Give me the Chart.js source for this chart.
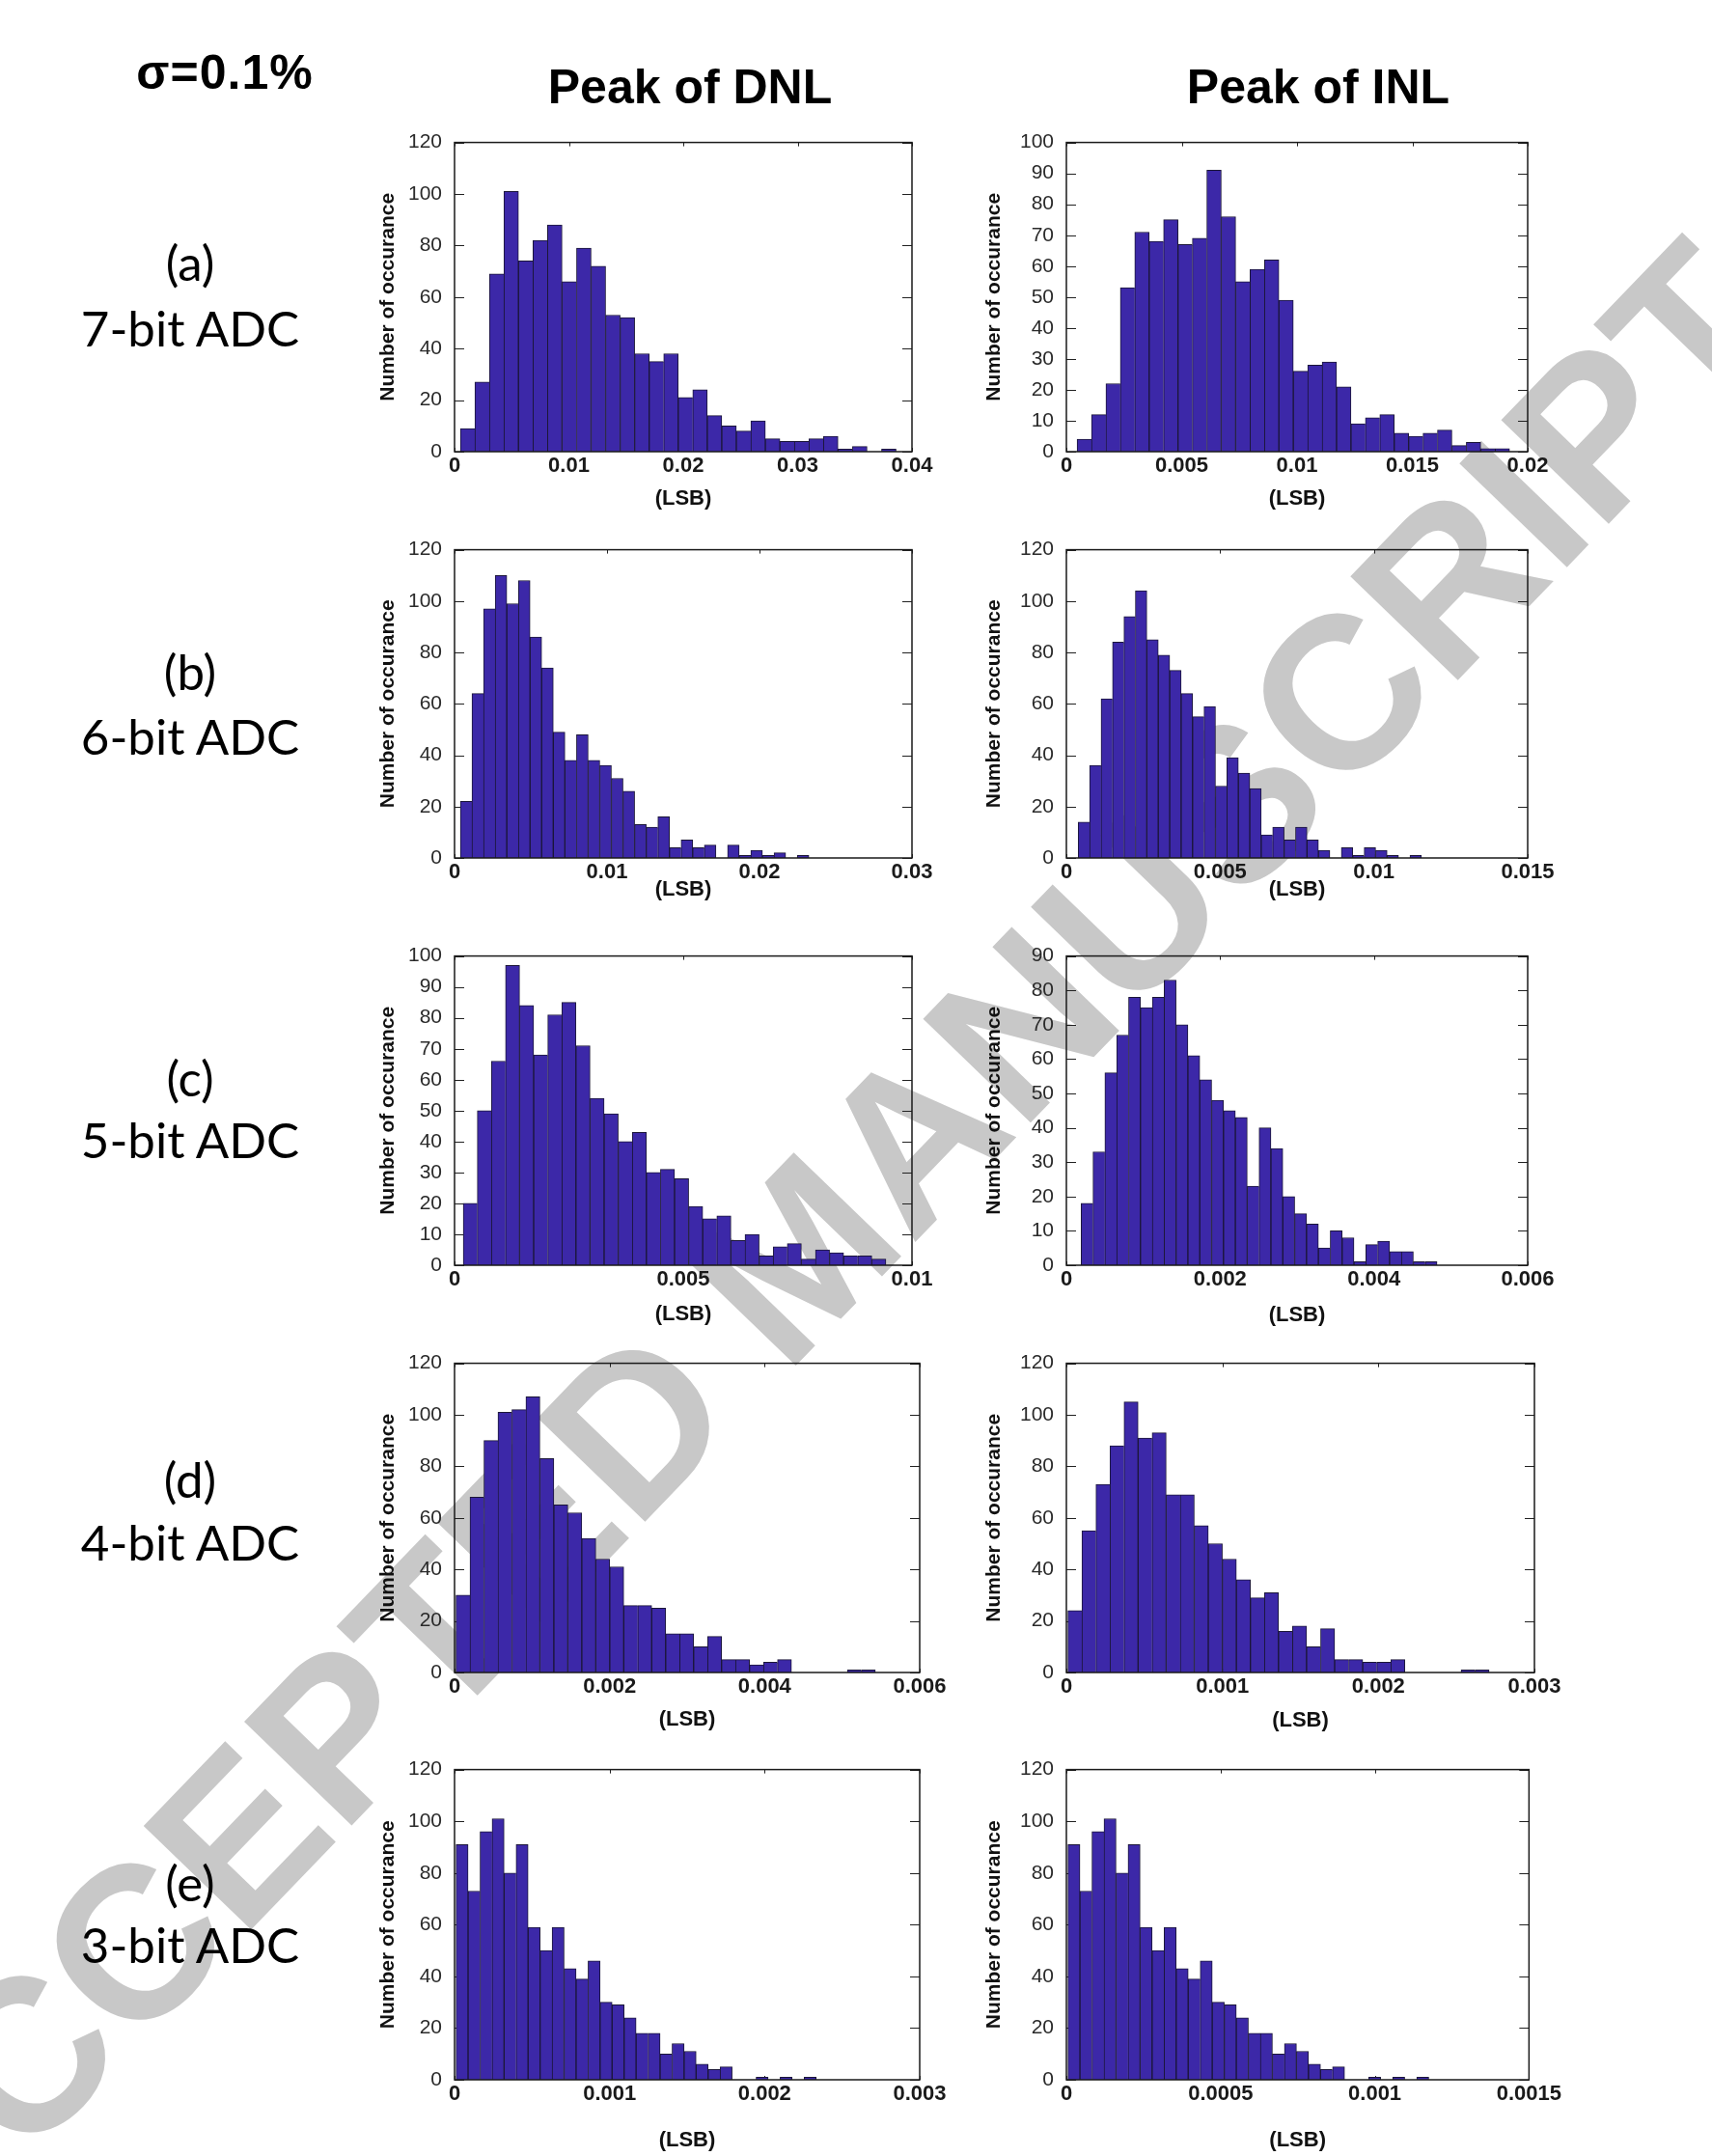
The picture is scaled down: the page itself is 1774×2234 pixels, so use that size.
<!DOCTYPE html>
<html>
<head>
<meta charset="utf-8">
<script src="https://cdn.jsdelivr.net/npm/chart.js@4.4.1/dist/chart.umd.min.js"></script>
<style>
  body { margin: 0; background: #fff; }
  #page { position: relative; width: 1774px; height: 2234px; overflow: hidden; background: #fff; }
  .txt { position: absolute; transform: translate(-50%, -50%); white-space: nowrap; color: #000; }
  .head { font-family: "Liberation Sans", Arial, sans-serif; font-weight: bold; }
  .row { font-family: Lato, "Open Sans", sans-serif; font-size: 51px; }
  #stamp { position: absolute; left: 828px; top: 1300px; transform: translate(-50%, -50%) rotate(-46deg);
           font-family: "Liberation Sans", Arial, sans-serif; font-weight: bold; font-size: 225px;
           line-height: 1; color: #c8c8c8; white-space: nowrap; }
  canvas { position: absolute; }
</style>
</head>
<body>
<div id="page">
  <div id="stamp">ACCEPTED MANUSCRIPT</div>

  <div class="txt head" style="left:233px; top:75px; font-size:50px; letter-spacing:1px;">σ=0.1%</div>
  <div class="txt head" style="left:715px; top:90px; font-size:50px;">Peak of DNL</div>
  <div class="txt head" style="left:1366px; top:90px; font-size:50px;">Peak of INL</div>

  <div class="txt row" style="left:197px; top:271px;">(a)</div>
  <div class="txt row" style="left:197px; top:339px;">7-bit ADC</div>
  <div class="txt row" style="left:197px; top:695px;">(b)</div>
  <div class="txt row" style="left:197px; top:762px;">6-bit ADC</div>
  <div class="txt row" style="left:197px; top:1116px;">(c)</div>
  <div class="txt row" style="left:197px; top:1180px;">5-bit ADC</div>
  <div class="txt row" style="left:197px; top:1532px;">(d)</div>
  <div class="txt row" style="left:197px; top:1597px;">4-bit ADC</div>
  <div class="txt row" style="left:197px; top:1950px;">(e)</div>
  <div class="txt row" style="left:197px; top:2014px;">3-bit ADC</div>
</div>

<script>
// Histogram counts, 30 bins each
const aDnlCounts = [9, 27, 69, 101, 74, 82, 88, 66, 79, 72, 53, 52, 38, 35, 38, 21, 24, 14, 10, 8, 12, 5, 4, 4, 5, 6, 1, 2, 0, 1];
const aInlCounts = [4, 12, 22, 53, 71, 68, 75, 67, 69, 91, 76, 55, 59, 62, 49, 26, 28, 29, 21, 9, 11, 12, 6, 5, 6, 7, 2, 3, 1, 1];
const bDnlCounts = [22, 64, 97, 110, 99, 108, 86, 74, 49, 38, 48, 38, 36, 31, 26, 13, 12, 16, 4, 7, 4, 5, 0, 5, 1, 3, 1, 2, 0, 1];
const bInlCounts = [14, 36, 62, 84, 94, 104, 85, 79, 73, 64, 55, 59, 28, 39, 33, 27, 9, 12, 7, 12, 7, 3, 0, 4, 1, 4, 3, 1, 0, 1];
const cDnlCounts = [20, 50, 66, 97, 84, 68, 81, 85, 71, 54, 49, 40, 43, 30, 31, 28, 19, 15, 16, 8, 10, 3, 6, 7, 2, 5, 4, 3, 3, 2];
const cInlCounts = [18, 33, 56, 67, 78, 75, 78, 83, 70, 61, 54, 48, 45, 43, 23, 40, 34, 20, 15, 12, 5, 10, 8, 1, 6, 7, 4, 4, 1, 1];
const dDnlCounts = [30, 68, 90, 101, 102, 107, 83, 65, 62, 52, 44, 41, 26, 26, 25, 15, 15, 10, 14, 5, 5, 3, 4, 5, 0, 0, 0, 0, 1, 1];
const dInlCounts = [24, 55, 73, 88, 105, 91, 93, 69, 69, 57, 50, 44, 36, 29, 31, 16, 18, 10, 17, 5, 5, 4, 4, 5, 0, 0, 0, 0, 1, 1];
const eDnlCounts = [91, 73, 96, 101, 80, 91, 59, 50, 59, 43, 39, 46, 30, 29, 24, 18, 18, 10, 14, 11, 6, 4, 5, 0, 0, 1, 0, 1, 0, 1];
const eInlCounts = [91, 73, 96, 101, 80, 91, 59, 50, 59, 43, 39, 46, 30, 29, 24, 18, 18, 10, 14, 11, 6, 4, 5, 0, 0, 1, 0, 1, 0, 1];

// Bin start and bin width (LSB)
const aDnlBins = [0.00051, 0.00127];
const aInlBins = [0.000464, 0.000625];
const bDnlBins = [0.00038, 0.000762];
const bInlBins = [0.000384, 0.000372];
const cDnlBins = [0.00019, 0.000308];
const cInlBins = [0.000192, 0.0001543];
const dDnlBins = [0.000019, 0.0001803];
const dInlBins = [0.0000096, 0.00009];
const eDnlBins = [0.00001, 0.0000774];
const eInlBins = [0.000005, 0.000039];

// Tick labels
const aDnlXTicks = [0, 0.01, 0.02, 0.03, 0.04];
const aInlXTicks = [0, 0.005, 0.01, 0.015, 0.02];
const bDnlXTicks = [0, 0.01, 0.02, 0.03];
const bInlXTicks = [0, 0.005, 0.01, 0.015];
const cDnlXTicks = [0, 0.005, 0.01];
const cInlXTicks = [0, 0.002, 0.004, 0.006];
const dDnlXTicks = [0, 0.002, 0.004, 0.006];
const dInlXTicks = [0, 0.001, 0.002, 0.003];
const eDnlXTicks = [0, 0.001, 0.002, 0.003];
const eInlXTicks = [0, 0.0005, 0.001, 0.0015];

const yTicks120 = [0, 20, 40, 60, 80, 100, 120];
const yTicks100 = [0, 10, 20, 30, 40, 50, 60, 70, 80, 90, 100];
const yTicks90 = [0, 10, 20, 30, 40, 50, 60, 70, 80, 90];

// Where each plot box sits on the page: y-title x, plot left/right/top/bottom, x-title y
const layoutBoxes = {
    aDnl: { titleX: 403, left: 471, right: 945, top: 148, bottom: 468, titleY: 517 },
    aInl: { titleX: 1031, left: 1105, right: 1583, top: 148, bottom: 468, titleY: 517 },
    bDnl: { titleX: 403, left: 471, right: 945, top: 570, bottom: 889, titleY: 922 },
    bInl: { titleX: 1031, left: 1105, right: 1583, top: 570, bottom: 889, titleY: 922 },
    cDnl: { titleX: 403, left: 471, right: 945, top: 991, bottom: 1311, titleY: 1362 },
    cInl: { titleX: 1031, left: 1105, right: 1583, top: 991, bottom: 1311, titleY: 1363 },
    dDnl: { titleX: 403, left: 471, right: 953, top: 1413, bottom: 1733, titleY: 1782 },
    dInl: { titleX: 1031, left: 1105, right: 1590, top: 1413, bottom: 1733, titleY: 1783 },
    eDnl: { titleX: 403, left: 471, right: 953, top: 1834, bottom: 2155, titleY: 2218 },
    eInl: { titleX: 1031, left: 1105, right: 1590, top: 1834, bottom: 2155, titleY: 2218 }
};

const panels = [
    { id: 'aDnl', counts: aDnlCounts, bins: aDnlBins, xTicks: aDnlXTicks, yTicks: yTicks120 },
    { id: 'aInl', counts: aInlCounts, bins: aInlBins, xTicks: aInlXTicks, yTicks: yTicks100 },
    { id: 'bDnl', counts: bDnlCounts, bins: bDnlBins, xTicks: bDnlXTicks, yTicks: yTicks120 },
    { id: 'bInl', counts: bInlCounts, bins: bInlBins, xTicks: bInlXTicks, yTicks: yTicks120 },
    { id: 'cDnl', counts: cDnlCounts, bins: cDnlBins, xTicks: cDnlXTicks, yTicks: yTicks100 },
    { id: 'cInl', counts: cInlCounts, bins: cInlBins, xTicks: cInlXTicks, yTicks: yTicks90 },
    { id: 'dDnl', counts: dDnlCounts, bins: dDnlBins, xTicks: dDnlXTicks, yTicks: yTicks120 },
    { id: 'dInl', counts: dInlCounts, bins: dInlBins, xTicks: dInlXTicks, yTicks: yTicks120 },
    { id: 'eDnl', counts: eDnlCounts, bins: eDnlBins, xTicks: eDnlXTicks, yTicks: yTicks120 },
    { id: 'eInl', counts: eInlCounts, bins: eInlBins, xTicks: eInlXTicks, yTicks: yTicks120 }
];

const barFill = '#3c28a8';
const barEdge = '#1b1638';
const fontFamily = '"Liberation Sans", Arial, sans-serif';

// Inward ticks on all four sides and the closed frame
const frameBox = {
    id: 'frameBox',
    beforeDatasetsDraw(chart) {
        const { ctx, chartArea: a, scales: { x, y } } = chart;
        ctx.save();
        ctx.strokeStyle = '#222';
        ctx.lineWidth = 1;
        ctx.beginPath();
        y.ticks.forEach(t => {
            const py = Math.round(y.getPixelForValue(t.value)) + 0.5;
            ctx.moveTo(a.left, py); ctx.lineTo(a.left + 10, py);
            ctx.moveTo(a.right, py); ctx.lineTo(a.right - 10, py);
        });
        x.ticks.forEach(t => {
            const px = Math.round(x.getPixelForValue(t.value)) + 0.5;
            ctx.moveTo(px, a.top); ctx.lineTo(px, a.top + 4);
            ctx.moveTo(px, a.bottom); ctx.lineTo(px, a.bottom - 4);
        });
        ctx.stroke();
        ctx.restore();
    },
    afterDatasetsDraw(chart) {
        const { ctx, chartArea: a } = chart;
        ctx.save();
        ctx.strokeStyle = '#1a1a1a';
        ctx.lineWidth = 1.5;
        ctx.strokeRect(a.left, a.top, a.right - a.left, a.bottom - a.top);
        ctx.restore();
    }
};

const padTop = 14, padRight = 30;

const buildConfig = (p, yAxisWidth, xAxisHeight) => {
    const [start, width] = p.bins;
    const points = p.counts.map((c, i) => ({ x: start + (i + 0.5) * width, y: c }));

    return {
        type: 'bar',
        data: {
            datasets: [{
                data: points,
                backgroundColor: barFill,
                borderColor: barEdge,
                borderSkipped: false,
                borderWidth: (ctx) => {
                    const i = ctx.dataIndex;
                    const next = i + 1 < p.counts.length ? p.counts[i + 1] : 0;
                    return { left: 1, top: 1, bottom: 0, right: next < p.counts[i] ? 1 : 0 };
                },
                barPercentage: 1,
                categoryPercentage: 1
            }]
        },
        options: {
            responsive: false,
            maintainAspectRatio: false,
            animation: false,
            devicePixelRatio: 1,
            layout: { padding: { left: 0, top: padTop, right: padRight, bottom: 0 } },
            plugins: { legend: { display: false }, tooltip: { enabled: false } },
            scales: {
                x: {
                    type: 'linear',
                    min: 0,
                    max: p.xTicks[p.xTicks.length - 1],
                    offset: false,
                    grid: { display: false, drawTicks: false, offset: false },
                    border: { display: false },
                    afterBuildTicks: s => { s.ticks = p.xTicks.map(v => ({ value: v })); },
                    afterFit: s => { s.height = xAxisHeight; },
                    ticks: {
                        padding: 2, autoSkip: false, maxRotation: 0, color: '#1a1a1a',
                        font: { family: fontFamily, size: 22, weight: 'bold' },
                        callback: v => String(v)
                    },
                    title: {
                        display: true, text: '(LSB)', padding: 0, color: '#111',
                        font: { family: fontFamily, size: 22, weight: 'bold' }
                    }
                },
                y: {
                    min: 0,
                    max: p.yTicks[p.yTicks.length - 1],
                    grid: { display: false, drawTicks: false },
                    border: { display: false },
                    afterBuildTicks: s => { s.ticks = p.yTicks.map(v => ({ value: v })); },
                    afterFit: s => { s.width = yAxisWidth; },
                    ticks: {
                        padding: 13, autoSkip: false, color: '#2a2a2a',
                        font: { family: fontFamily, size: 21 },
                        callback: v => String(v)
                    },
                    title: {
                        display: true, text: 'Number of occurance', padding: 0, color: '#111',
                        font: { family: fontFamily, size: 21, weight: 'bold' }
                    }
                }
            }
        },
        plugins: [frameBox]
    };
};

const makeChart = (p) => {
    const b = layoutBoxes[p.id];
    const left = b.titleX - 13;
    const yAxisWidth = b.left - left;
    const xAxisHeight = b.titleY - b.bottom + 13;

    const canvas = document.createElement('canvas');
    const w = yAxisWidth + (b.right - b.left) + padRight;
    let h = padTop + (b.bottom - b.top) + xAxisHeight;
    canvas.width = w;
    canvas.height = h;
    canvas.style.left = left + 'px';
    canvas.style.top = (b.top - padTop) + 'px';
    document.getElementById('page').appendChild(canvas);

    let chart = new Chart(canvas, buildConfig(p, yAxisWidth, xAxisHeight));

    // the layout may push the plot top down a little: grow the canvas upwards by that much
    const extra = Math.round(chart.chartArea.top - padTop);
    if (extra !== 0) {
        chart.destroy();
        h += extra;
        canvas.width = w;
        canvas.height = h;
        canvas.style.width = w + 'px';
        canvas.style.height = h + 'px';
        canvas.style.top = (b.top - padTop - extra) + 'px';
        chart = new Chart(canvas, buildConfig(p, yAxisWidth, xAxisHeight));
    }
};

panels.forEach(makeChart);
</script>
</body>
</html>
